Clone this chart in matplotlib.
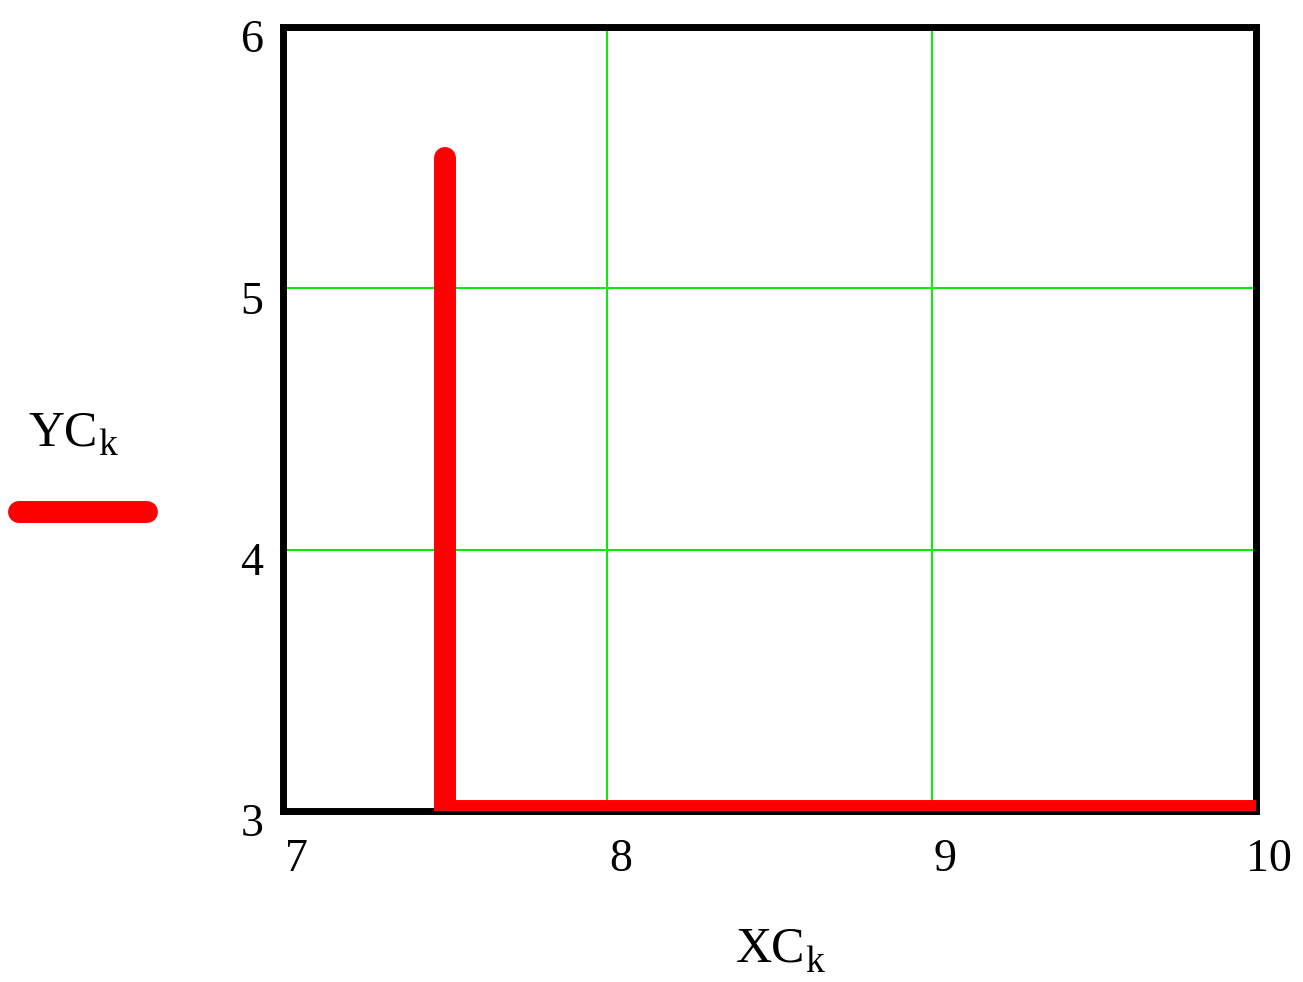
import matplotlib
matplotlib.use("Agg")
import matplotlib.pyplot as plt
import matplotlib.transforms as mtransforms
from matplotlib.lines import Line2D

# data
xc = [7.5, 7.5, 10.0]
yc = [5.5, 3.0, 3.0]
x_ticks = [7, 8, 9, 10]
y_ticks = [3, 4, 5, 6]

plt.rcParams['font.family'] = ['Liberation Serif', 'DejaVu Serif']

W, H = 1303, 982
fig = plt.figure(figsize=(W / 100, H / 100), dpi=100)
ax = fig.add_axes([283 / W, 1 - 811 / H, 973 / W, 784 / H])

ax.plot(xc, yc, color='red', lw=15.8, solid_capstyle='round', zorder=3)

ax.set_xlim(7, 10)
ax.set_ylim(3, 6)
ax.set_xticks(x_ticks)
ax.set_yticks(y_ticks)
ax.set_xticklabels([str(v) for v in x_ticks])
ax.set_yticklabels([str(v) for v in y_ticks])
ax.grid(True, color='#00ee00', lw=1.4)
ax.set_axisbelow(True)
for s in ax.spines.values():
    s.set_linewidth(5)
    s.set_color('black')

ax.tick_params(axis='both', length=0, labelsize=33)
ax.tick_params(axis='y', pad=14)
ax.tick_params(axis='x', pad=20)

# Mathcad style: labels sit a little off the tick
dy = mtransforms.ScaledTranslation(0, -9 / 100, fig.dpi_scale_trans)
dx = mtransforms.ScaledTranslation(13 / 100, 0, fig.dpi_scale_trans)
for lab in ax.get_yticklabels():
    lab.set_transform(lab.get_transform() + dy)
for lab in ax.get_xticklabels():
    lab.set_transform(lab.get_transform() + dx)


def sub_label(x, y, main, sub):
    # main text plus a dropped subscript, positions in pixels
    t = fig.text(x / W, 1 - y / H, main, ha='left', va='baseline', fontsize=36)
    r = fig.canvas.get_renderer()
    bb = t.get_window_extent(r)
    fig.text(bb.x1 / W, 1 - (y + 10) / H, sub, ha='left', va='baseline', fontsize=27)


sub_label(736, 962, 'XC', 'k')
sub_label(29, 445, 'YC', 'k')

fig.add_artist(Line2D([19 / W, 147 / W], [1 - 512 / H, 1 - 512 / H],
                      transform=fig.transFigure, color='red', lw=15.8,
                      solid_capstyle='round'))

fig.savefig('out.png', dpi=100)
